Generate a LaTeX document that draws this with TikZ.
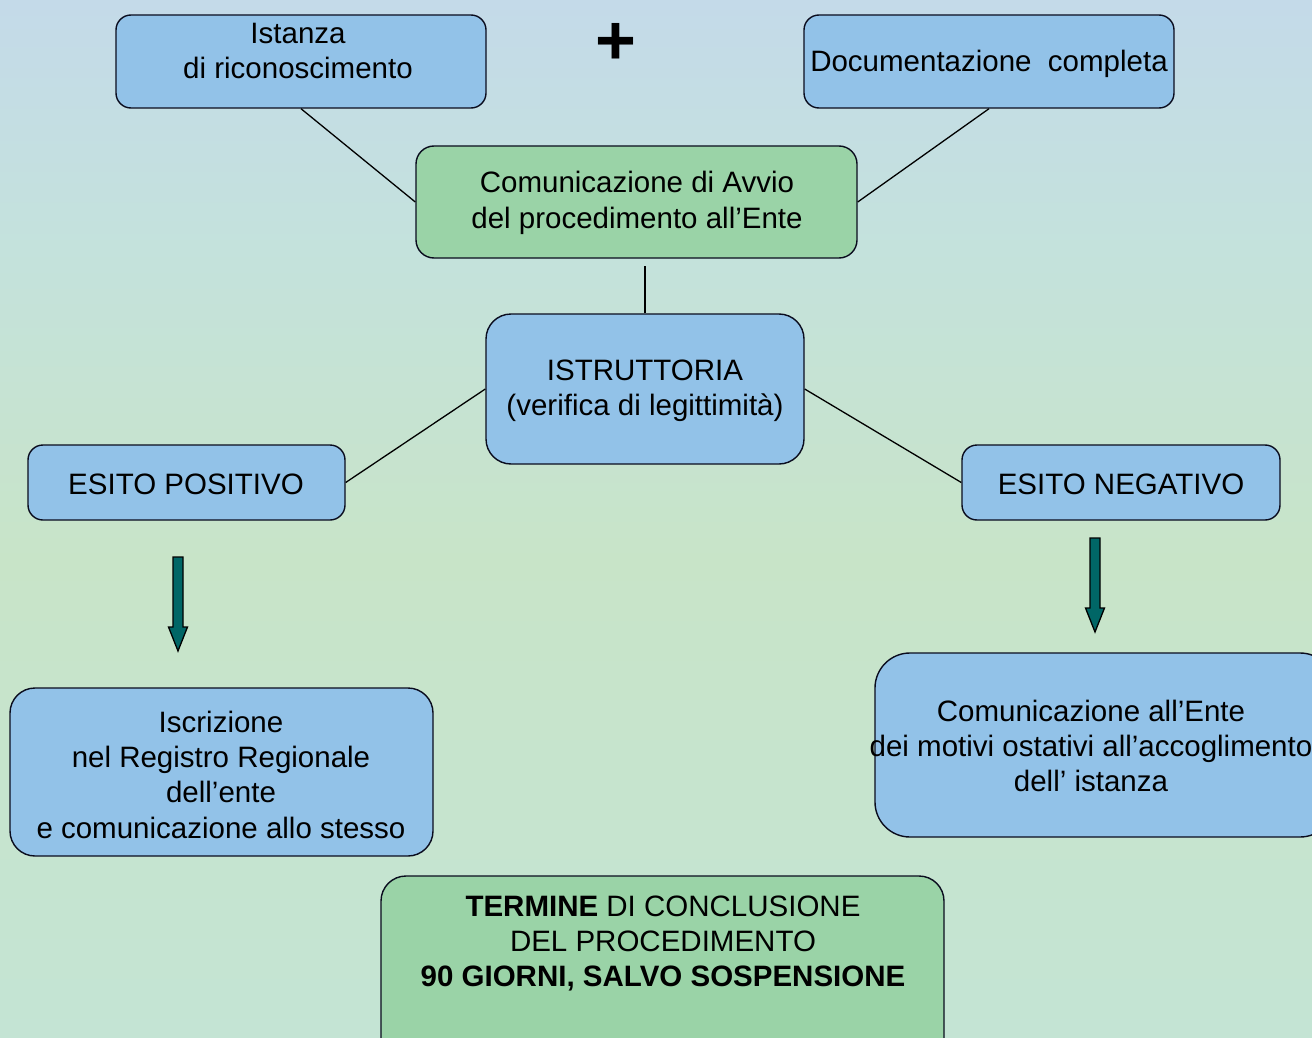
\documentclass[tikz,border=0pt]{standalone}
\usepackage{fontspec}
\setmainfont{Liberation Sans}
\definecolor{bgA}{RGB}{196,228,212}
\definecolor{bgB}{RGB}{200,228,200}
\definecolor{bgC}{RGB}{196,226,220}
\definecolor{bgD}{RGB}{196,218,233}
\definecolor{boxblue}{RGB}{146,194,232}
\definecolor{boxgreen}{RGB}{154,211,167}
\definecolor{boxline}{RGB}{10,12,30}
\definecolor{arrteal}{RGB}{0,102,102}
\pgfdeclareverticalshading{bgshade}{100bp}{color(0bp)=(bgA); color(25bp)=(bgA); color(48bp)=(bgB); color(63bp)=(bgC); color(75bp)=(bgD); color(100bp)=(bgD)}
\begin{document}
\begin{tikzpicture}[x=1pt,y=-1pt,
  bbox/.style={draw=boxline, line width=1.4pt, fill=boxblue, rounded corners=#1, inner sep=0pt},
  bbox/.default=15pt,
  gbox/.style={bbox=#1, fill=boxgreen},
  gbox/.default=15pt,
  txt/.style={align=center, inner sep=0pt, font=\fontsize{29.5}{35.3}\selectfont},
  conn/.style={draw=black, line width=1.3pt},
  blockarrow/.style={draw=black, line width=1.3pt, fill=arrteal, line join=miter}
]
\useasboundingbox (0,0) rectangle (1312,1038);
\clip (0,0) rectangle (1312,1038);
\shade[shading=bgshade] (0,0) rectangle (1312,1038);

% boxes
\node[bbox, minimum width=370pt, minimum height=93pt] (ist) at (301,61.5) {};
\node[bbox, minimum width=370pt, minimum height=93pt] (doc) at (989,61.5) {};
\node[gbox=18pt, minimum width=441pt, minimum height=112pt] (avvio) at (636.5,202) {};
\node[bbox=25pt, minimum width=318pt, minimum height=150pt] (istr) at (645,389) {};
\node[bbox, minimum width=317pt, minimum height=75pt] (pos) at (186.5,482.5) {};
\node[bbox, minimum width=318pt, minimum height=75pt] (neg) at (1121,482.5) {};
\node[bbox=25pt, minimum width=423pt, minimum height=168pt] (iscr) at (221.5,772) {};
\node[bbox=35pt, minimum width=460pt, minimum height=184pt] (coment) at (1105,745) {};
\node[gbox=25pt, minimum width=563pt, minimum height=190pt] (term) at (662.5,971) {};

% texts
\node[txt] (istT) at (298,51) {Istanza\\di riconoscimento};
\node[txt] (docT) at (989,63.5) {Documentazione\ \ completa};
\node[txt] (avvioT) at (637,203) {Comunicazione di Avvio\\del procedimento all’Ente};
\node[txt] (istrT) at (645,390.5) {ISTRUTTORIA\\(verifica di legittimità)};
\node[txt] (posT) at (186,484.5) {ESITO POSITIVO};
\node[txt] (negT) at (1121,484.5) {ESITO NEGATIVO};
\node[txt] (iscrT) at (221,774.5) {Iscrizione\\nel Registro Regionale\\dell’ente\\e comunicazione allo stesso};
\node[txt] (comentT) at (1091,746) {Comunicazione all’Ente\\dei motivi ostativi all’accoglimento\\dell’ istanza};
\node[txt] (termT) at (663,943.5) {\textbf{TERMINE} DI CONCLUSIONE\\DEL PROCEDIMENTO\\\textbf{90 GIORNI, SALVO SOSPENSIONE}};
\node[inner sep=0pt, font=\fontsize{70}{70}\selectfont\bfseries] (plus) at (615.5,43.5) {+};

% connectors
\draw[conn] (ist.south) -- (avvio.west);
\draw[conn] (doc.south) -- (avvio.east);
\draw[conn, shorten >=7pt] (istr.north) -- (istr.north |- avvio.south);
\draw[conn] (istr.west) -- (pos.east);
\draw[conn] (istr.east) -- (neg.west);

% block arrows
\draw[blockarrow] (173,557) -- (183,557) -- (183,627) -- (187.5,627) -- (178,651) -- (168.5,627) -- (173,627) -- cycle;
\draw[blockarrow] (1090,538) -- (1100,538) -- (1100,608) -- (1104.5,608) -- (1095,632) -- (1085.5,608) -- (1090,608) -- cycle;
\end{tikzpicture}
\end{document}
